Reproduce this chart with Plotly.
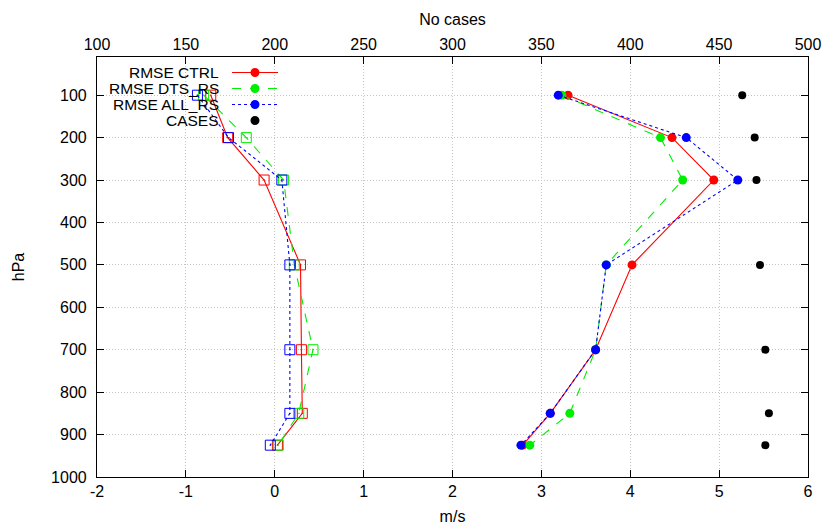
import plotly.graph_objects as go

# Pressure levels (hPa)
levels = [100, 200, 300, 500, 700, 850, 925]

# RMSE (m/s)
rmse_ctrl = [3.30, 4.47, 4.94, 4.02, 3.61, 3.10, 2.79]
rmse_dts = [3.23, 4.34, 4.59, 3.73, 3.61, 3.32, 2.87]
rmse_all = [3.19, 4.63, 5.21, 3.73, 3.61, 3.10, 2.77]

# Bias (m/s)
bias_ctrl = [-0.72, -0.53, -0.12, 0.29, 0.30, 0.31, 0.03]
bias_dts = [-0.80, -0.32, 0.10, 0.22, 0.43, 0.27, 0.04]
bias_all = [-0.87, -0.52, 0.08, 0.17, 0.17, 0.17, -0.05]

# Number of cases
cases = [463, 470, 471, 473, 476, 478, 476]

# Tick labels
x_ticks = [-2, -1, 0, 1, 2, 3, 4, 5, 6]
x_ticklabels = ["-2", "-1", "0", "1", "2", "3", "4", "5", "6"]
x2_ticks = [100, 150, 200, 250, 300, 350, 400, 450, 500]
y_ticks = [100, 200, 300, 400, 500, 600, 700, 800, 900, 1000]

names = ["RMSE CTRL", "RMSE DTS_RS", "RMSE ALL_RS", "CASES"]
colors = ["#ff0000", "#00ee00", "#0000ff", "#000000"]
dashes = ["solid", "dash", "dot"]

FONT = "Liberation Sans, Arial, Helvetica, sans-serif"
FS = 16

fig = go.Figure()

for vals, col, d in zip([bias_ctrl, bias_dts, bias_all], colors, dashes):
    fig.add_trace(go.Scatter(
        x=vals, y=levels, mode="lines+markers",
        line=dict(color=col, width=1.1, dash=d),
        marker=dict(symbol="square-open-dot", size=10, color=col, line=dict(width=1)),
        showlegend=False))

for vals, col, d, nm in zip([rmse_ctrl, rmse_dts, rmse_all], colors, dashes, names):
    fig.add_trace(go.Scatter(
        x=vals, y=levels, mode="lines+markers", name=nm,
        line=dict(color=col, width=1.1, dash=d),
        marker=dict(symbol="circle", size=9, color=col),
        showlegend=False))

fig.add_trace(go.Scatter(
    x=cases, y=levels, mode="markers", name=names[3], xaxis="x2",
    marker=dict(symbol="circle", size=8, color="black"),
    showlegend=False))

# Manual legend (gnuplot style: text right-aligned, sample to the right)
leg_y = [0.9631, 0.9250, 0.8869, 0.8488]
shapes = []
annotations = []
for i, nm in enumerate(names):
    yy = leg_y[i]
    annotations.append(dict(
        x=0.1744, y=yy, xref="paper", yref="paper", text=nm,
        showarrow=False, xanchor="right", yanchor="middle",
        font=dict(family=FONT, size=15.5, color="black")))
    if i < 3:
        shapes.append(dict(
            type="line", xref="paper", yref="paper",
            x0=0.1899, x1=0.2546, y0=yy, y1=yy,
            line=dict(color=colors[i], width=1.1, dash=dashes[i])))
    shapes.append(dict(
        type="circle", xref="paper", yref="paper",
        xsizemode="pixel", ysizemode="pixel",
        xanchor=0.2222, yanchor=yy, x0=-4.5, x1=4.5, y0=-4.5, y1=4.5,
        fillcolor=colors[i], line=dict(color=colors[i], width=0)))

axis_common = dict(
    showline=True, linecolor="black", linewidth=1.2,
    ticks="inside", ticklen=7, tickcolor="black", tickwidth=1,
    tickfont=dict(family=FONT, size=FS, color="black"),
    zeroline=False, automargin=False)

grid = dict(showgrid=True, gridcolor="#c4c4c4", griddash="1px,2px", gridwidth=1)

fig.update_layout(
    width=822, height=529,
    margin=dict(l=97, r=14, t=57, b=52),
    paper_bgcolor="white", plot_bgcolor="white",
    font=dict(family=FONT, size=FS, color="black"),
    shapes=shapes, annotations=annotations,
    xaxis=dict(
        range=[-2, 6], tickvals=x_ticks, ticktext=x_ticklabels,
        mirror=True,
        title=dict(text="m/s", standoff=11, font=dict(family=FONT, size=FS)),
        **grid, **axis_common),
    xaxis2=dict(
        range=[100, 500], tickvals=x2_ticks,
        overlaying="x", side="top", showgrid=False,
        title=dict(text="No cases", standoff=5, font=dict(family=FONT, size=FS)),
        **axis_common),
    yaxis=dict(
        range=[1000, 10], tickvals=y_ticks,
        mirror="ticks", ticklabelstandoff=6,
        title=dict(text="hPa", standoff=22, font=dict(family=FONT, size=FS)),
        **grid, **axis_common),
)

fig.write_html(
    "out.html",
    config={"displayModeBar": False},
    post_script="document.body.style.margin='0';document.body.style.overflow='hidden';")
